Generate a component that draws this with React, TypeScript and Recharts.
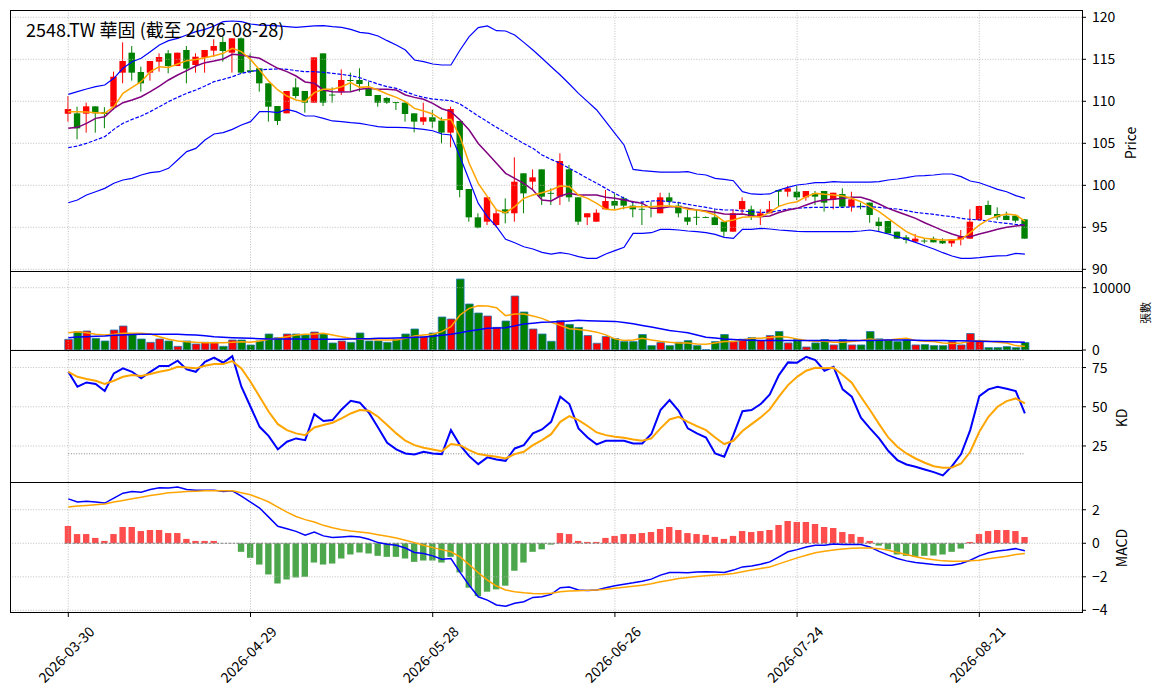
import React from "react";
import { Bar, Cell, ComposedChart, Line, ReferenceLine, XAxis, YAxis } from "recharts";

const FONT = "'Noto Sans CJK TC', 'Noto Sans', sans-serif";
const UP = "#ff0000";
const DOWN = "#008000";
const GRID = "#b0b0b0";

// x ticks (bar index -> date label)
const tickIdx = [0, 20, 40, 60, 80, 100];
const tickLabels = ["2026-03-30", "2026-04-29", "2026-05-28", "2026-06-26", "2026-07-24", "2026-08-21"];

const open = [
  108.52, 108.57, 108.53, 109.4, 108.7, 109.36, 113.41, 115.79, 113.49, 113.41,
  114.72, 115.71, 114.2, 116.11, 114.32, 115.2, 116.03, 117.06, 115.79, 117.5,
  113.7, 113.93, 112.14, 109.44, 108.57, 111.66, 111.23, 109.84, 115.71, 110.8,
  111.15, 112.54, 112.54, 111.55, 110.75, 110.4, 109.9, 109.84, 108.57, 107.58,
  108.1, 107.7, 106.27, 107.66, 99.56, 96.19, 95.67, 95.27, 97.14, 96.67,
  101.43, 100.43, 101.9, 99.1, 98.65, 101.9, 98.57, 96.19, 95.67, 97.14,
  98.13, 98.45, 97.58, 97.2, 97.5, 96.67, 98.57, 97.58, 96.19, 96.25,
  96.22, 96.19, 95.67, 94.48, 97.14, 97.14, 96.27, 96.67, 99.44, 99.24,
  99.24, 98.57, 99.04, 99.32, 98.33, 98.96, 97.46, 97.56, 97.94, 95.67,
  95.75, 94.48, 93.81, 93.29, 93.42, 93.65, 93.41, 93.09, 93.57, 93.65,
  95.87, 97.66, 96.59, 96.39, 96.39, 95.95,
];
const high = [
  110.63, 109.36, 109.84, 109.4, 109.3, 113.53, 117.02, 116.58, 114.12, 114.8,
  115.71, 116.1, 115.79, 116.58, 115.71, 116.11, 117.38, 117.7, 117.5, 117.6,
  115.7, 113.93, 112.14, 109.44, 111.23, 112.74, 111.23, 115.23, 115.71, 111.66,
  113.81, 113.41, 113.93, 112.34, 110.75, 110.5, 109.9, 109.84, 108.57, 109.84,
  108.96, 108.1, 109.36, 107.66, 99.56, 96.67, 98.57, 97.06, 98.45, 103.33,
  101.43, 101.9, 101.9, 99.64, 103.81, 102.42, 98.57, 96.67, 97.14, 99.44,
  99.04, 98.65, 98.05, 98.05, 98.05, 99.12, 99.12, 98.05, 97.14, 97.14,
  96.3, 97.14, 95.67, 97.14, 98.57, 97.58, 97.14, 98.13, 99.44, 99.92,
  99.92, 99.32, 99.32, 99.32, 99.12, 99.64, 99.24, 97.94, 97.94, 96.19,
  95.75, 94.48, 94.08, 94.2, 93.69, 93.89, 93.69, 93.57, 94.68, 97.14,
  97.54, 98.17, 97.38, 96.87, 96.39, 95.95,
];
const low = [
  107.58, 105.47, 106.27, 106.27, 106.8, 108.96, 112.14, 112.46, 111.15, 112.46,
  113.53, 113.33, 114.2, 112.14, 113.41, 113.41, 115.31, 114.72, 113.41, 113.3,
  113.3, 111.15, 107.58, 107.18, 108.57, 110.35, 108.65, 109.84, 109.44, 109.84,
  110.75, 111.15, 111.15, 110.63, 109.36, 109.7, 108.96, 107.58, 106.31, 107.18,
  106.78, 104.99, 104.52, 98.57, 95.67, 94.88, 95.27, 94.99, 95.47, 95.67,
  96.67, 99.44, 97.66, 97.66, 97.66, 98.05, 95.27, 95.27, 95.67, 97.14,
  97.14, 97.14, 96.19, 95.27, 96.19, 96.67, 97.58, 96.19, 95.27, 95.27,
  96.1, 95.27, 93.89, 94.48, 96.67, 95.87, 95.27, 96.67, 97.46, 98.65,
  98.25, 98.17, 97.66, 96.87, 97.14, 97.46, 96.87, 97.14, 95.55, 94.48,
  94.28, 93.65, 93.09, 93.29, 93.09, 93.21, 93.01, 92.69, 92.85, 93.65,
  95.87, 96.47, 95.87, 95.87, 95.55, 93.65,
];
const close = [
  109.08, 106.78, 109.4, 108.57, 108.5, 112.93, 114.8, 113.41, 112.14, 114.8,
  115.27, 114.2, 115.79, 113.89, 115.31, 116.11, 116.58, 115.99, 117.5, 113.41,
  113.5, 112.14, 109.36, 107.66, 111.23, 110.63, 109.84, 115.23, 109.84, 110.75,
  112.54, 112.42, 112.06, 110.63, 109.84, 109.84, 109.84, 108.49, 107.58, 108.1,
  107.58, 106.27, 109.08, 99.44, 96.19, 94.96, 98.57, 96.67, 96.67, 100.43,
  99.04, 100.95, 98.65, 99.04, 102.89, 98.57, 95.67, 96.67, 96.74, 98.13,
  97.58, 97.58, 97.14, 97.14, 97.45, 98.57, 98.05, 96.67, 95.67, 96.19,
  96.19, 95.27, 94.48, 96.67, 98.13, 96.27, 96.67, 97.14, 99.24, 99.64,
  98.57, 99.32, 98.65, 97.94, 99.12, 97.46, 98.33, 97.54, 96.47, 95.15,
  94.28, 93.65, 93.49, 93.65, 93.4, 93.21, 93.09, 93.57, 93.89, 95.67,
  97.54, 96.47, 96.19, 95.87, 95.79, 93.65,
];

// moving averages and Bollinger bands on the price panel
const ma5 = [
  108.77, 108.77, 108.73, 108.65, 108.57, 109.36, 110.95, 111.66, 112.34, 113.53,
  114.12, 114.04, 114.44, 114.84, 114.99, 115.19, 115.43, 115.71, 116.31, 115.91,
  114.99, 113.73, 112.4, 111.35, 110.63, 110.16, 109.96, 111.03, 111.43, 111.43,
  111.74, 112.22, 111.66, 111.74, 111.35, 110.87, 110.47, 109.96, 109.16, 108.85,
  108.49, 107.78, 107.85, 105.79, 102.62, 100.24, 98.65, 97.06, 96.74, 97.46,
  98.45, 98.85, 99.12, 99.44, 99.92, 99.84, 98.85, 98.45, 97.85, 97.14,
  97.06, 97.34, 97.46, 97.46, 97.46, 97.54, 97.54, 97.46, 97.14, 97.06,
  96.86, 96.47, 95.67, 95.87, 96.19, 96.27, 96.27, 96.78, 97.5, 97.85,
  98.05, 98.65, 99.04, 98.93, 98.85, 98.73, 98.45, 98.05, 97.46, 96.86,
  96.07, 95.27, 94.48, 93.97, 93.69, 93.57, 93.49, 93.49, 93.57, 94.36,
  95.27, 95.95, 96.35, 96.59, 96.47, 95.75,
];
const ma10 = [
  106.78, 106.9, 107.38, 107.97, 108.17, 109.16, 109.84, 110.16, 110.55, 111.15,
  111.82, 112.54, 113.13, 113.65, 114.2, 114.6, 114.8, 115.04, 115.59, 115.51,
  115.31, 115.12, 114.52, 113.93, 113.53, 113.01, 112.3, 112.14, 111.35, 111.15,
  111.11, 111.15, 111.43, 111.55, 111.43, 111.43, 111.35, 110.75, 110.47, 110.24,
  109.76, 109.12, 108.77, 107.78, 106.58, 104.98, 103.81, 102.62, 101.43, 100.83,
  100.24, 99.44, 98.25, 98.13, 98.73, 99.04, 98.85, 98.85, 98.85, 98.57,
  98.45, 98.25, 98.05, 97.85, 97.26, 97.26, 97.46, 97.46, 97.26, 97.06,
  96.94, 96.78, 96.59, 96.55, 96.59, 96.39, 96.27, 96.35, 96.76, 97.06,
  97.26, 97.66, 98.05, 98.25, 98.33, 98.45, 98.57, 98.57, 98.25, 97.78,
  97.26, 96.86, 96.47, 96.07, 95.55, 95.08, 94.6, 94.2, 93.89, 93.89,
  94.2, 94.48, 94.76, 95.0, 95.16, 95.27,
];
const bbMid = [
  104.48, 104.68, 105.0, 105.39, 105.79, 106.66, 107.38, 107.85, 108.25, 108.77,
  109.36, 109.96, 110.47, 110.95, 111.35, 111.82, 112.34, 112.62, 112.93, 113.33,
  113.53, 113.73, 113.81, 113.85, 113.81, 113.65, 113.53, 113.53, 113.45, 113.33,
  113.21, 113.05, 112.81, 112.42, 112.06, 111.74, 111.55, 111.15, 110.75, 110.47,
  110.27, 110.16, 110.08, 109.68, 108.97, 108.25, 107.58, 106.9, 106.27, 105.59,
  104.98, 104.4, 103.61, 103.09, 102.62, 102.02, 101.43, 100.83, 100.24, 99.64,
  99.04, 98.45, 97.93, 98.01, 98.13, 98.17, 98.05, 97.93, 97.74, 97.54,
  97.38, 97.18, 97.06, 97.06, 96.94, 96.86, 96.78, 96.78, 96.98, 97.18,
  97.26, 97.34, 97.38, 97.38, 97.38, 97.38, 97.42, 97.46, 97.46, 97.38,
  97.26, 97.18, 96.98, 96.78, 96.66, 96.55, 96.39, 96.27, 96.07, 95.95,
  95.87, 95.75, 95.59, 95.47, 95.35, 95.27,
];
const bbUpper = [
  110.83, 111.15, 111.47, 111.74, 111.94, 112.74, 113.93, 114.72, 115.12, 115.91,
  116.7, 117.22, 117.5, 117.89, 118.29, 118.57, 118.97, 119.48, 119.56, 119.48,
  119.2, 119.08, 119.04, 118.97, 118.89, 118.81, 118.89, 118.97, 119.0, 118.89,
  118.81, 118.57, 118.21, 118.09, 117.77, 117.22, 116.7, 116.11, 114.92, 114.72,
  114.44, 114.32, 114.32, 116.11, 117.7, 118.77, 118.97, 118.41, 118.37, 117.89,
  117.02, 116.11, 115.12, 114.12, 113.13, 112.06, 110.95, 109.96, 108.97, 107.58,
  106.19, 104.8, 101.9, 101.74, 101.66, 101.58, 101.58, 101.58, 101.62, 101.35,
  101.23, 100.83, 100.71, 100.55, 99.24, 98.97, 98.93, 98.97, 99.44, 99.76,
  100.04, 100.16, 100.31, 100.31, 100.43, 100.39, 100.39, 100.39, 100.39, 100.43,
  100.63, 100.75, 100.91, 101.11, 101.15, 101.23, 101.35, 101.35, 101.03, 100.51,
  100.31, 99.92, 99.52, 99.24, 98.77, 98.45,
];
const bbLower = [
  97.93, 98.25, 98.85, 99.24, 99.64, 100.24, 100.63, 100.83, 101.23, 101.5,
  101.62, 102.02, 103.01, 104.01, 104.4, 105.39, 106.11, 106.27, 106.66, 107.18,
  107.58, 108.77, 108.77, 108.65, 109.04, 108.77, 108.25, 108.25, 107.97, 107.66,
  107.58, 107.46, 107.38, 107.18, 106.98, 106.9, 106.9, 106.86, 106.78, 106.66,
  106.5, 106.11, 105.99, 103.41, 100.63, 97.85, 96.27, 95.08, 93.57, 93.17,
  92.69, 92.42, 92.02, 91.82, 91.98, 91.82, 91.51, 91.31, 91.31, 91.82,
  92.22, 92.62, 94.28, 94.28, 94.36, 94.76, 94.76, 94.68, 94.56, 94.48,
  94.36, 94.16, 93.81, 93.69, 94.76, 94.76, 94.88, 94.8, 94.68, 94.6,
  94.52, 94.48, 94.48, 94.48, 94.48, 94.48, 94.48, 94.56, 94.68, 94.48,
  94.2, 93.89, 93.57, 93.21, 92.81, 92.42, 91.98, 91.59, 91.31, 91.31,
  91.39, 91.51, 91.59, 91.63, 91.9, 91.82,
];

// volume (張)
const volume = [
  1711, 2941, 3048, 1872, 1444, 3209, 3851, 2514, 1765, 1230,
  1765, 1444, 588, 1444, 963, 1230, 1230, 588, 1604, 1604,
  802, 1444, 2567, 1979, 2567, 2567, 2407, 2888, 2567, 1123,
  1444, 1230, 2727, 1444, 1444, 1230, 1711, 2567, 3369, 2139,
  2727, 5295, 4974, 11391, 7380, 5936, 5455, 3637, 4653, 8664,
  6097, 3369, 2567, 1400, 4702, 4108, 3621, 2324, 1081, 2162,
  1838, 1351, 1351, 2486, 703, 1189, 703, 1243, 1513, 703,
  60, 1351, 2486, 1351, 1730, 2000, 1513, 2324, 2973, 1135,
  1676, 486, 1135, 1676, 811, 1676, 811, 811, 2973, 1784,
  1676, 1351, 1622, 811, 865, 703, 703, 1351, 811, 2648,
  1351, 378, 378, 540, 378, 1189,
];
const volMa5 = [
  2781, 2941, 2781, 2514, 2407, 2514, 2674, 2674, 2674, 2567,
  2139, 1711, 1444, 1337, 1230, 1177, 1177, 1177, 1230, 1337,
  1230, 1444, 1711, 1872, 2139, 2407, 2514, 2567, 2674, 2407,
  2139, 1872, 1711, 1711, 1604, 1604, 1604, 1872, 2246, 2407,
  2514, 2941, 3744, 5615, 6685, 7113, 7060, 6792, 5508, 5776,
  5776, 5455, 5081, 4460, 3946, 3405, 3297, 3135, 2865, 2432,
  1784, 1513, 1622, 1892, 1622, 1405, 1243, 1135, 1135, 973,
  919, 1135, 1351, 1351, 1622, 1892, 1892, 2000, 2162, 2054,
  1784, 1513, 1405, 1405, 1243, 1243, 1351, 1513, 1784, 1622,
  1622, 1784, 1892, 1513, 1405, 1351, 1135, 1027, 1135, 1405,
  1513, 1405, 1243, 1135, 703, 595,
];
const volMa20 = [
  1979, 2086, 2140, 2200, 2250, 2353, 2420, 2480, 2514, 2514,
  2514, 2514, 2514, 2460, 2407, 2300, 2139, 2060, 1979, 1930,
  1872, 1820, 1765, 1765, 1765, 1765, 1740, 1720, 1711, 1711,
  1740, 1765, 1790, 1820, 1872, 1900, 1930, 1979, 2040, 2100,
  2193, 2350, 2514, 2780, 3048, 3260, 3476, 3530, 3583, 3870,
  4171, 4300, 4439, 4486, 4594, 4670, 4756, 4700, 4648, 4620,
  4594, 4400, 4216, 3950, 3675, 3400, 3135, 2950, 2757, 2400,
  2054, 1920, 1784, 1700, 1622, 1570, 1513, 1513, 1513, 1513,
  1513, 1513, 1513, 1513, 1513, 1513, 1513, 1513, 1540, 1570,
  1600, 1610, 1600, 1570, 1540, 1520, 1510, 1500, 1480, 1450,
  1405, 1380, 1351, 1320, 1300, 1243,
];

// KD
const kLine = [
  72.3, 62.8, 65.5, 64.5, 60.0, 71.3, 74.5, 72.3, 68.1, 72.3,
  76.0, 76.0, 79.4, 73.8, 72.3, 78.7, 81.3, 78.1, 82.3, 62.8,
  50.0, 37.2, 31.3, 22.8, 27.7, 29.8, 28.7, 45.3, 40.9, 41.5,
  48.3, 53.8, 52.6, 46.2, 36.8, 27.0, 22.8, 20.2, 19.6, 21.3,
  20.2, 19.8, 35.1, 25.5, 18.5, 13.4, 17.7, 16.4, 15.5, 23.4,
  25.5, 33.0, 35.5, 40.4, 56.4, 51.7, 36.2, 30.4, 26.0, 28.3,
  28.3, 28.3, 26.6, 26.6, 32.6, 47.9, 54.3, 47.4, 36.2, 33.0,
  30.4, 20.2, 18.1, 31.9, 47.2, 47.9, 51.7, 57.9, 70.2, 78.3,
  78.1, 81.9, 79.8, 73.0, 75.5, 61.1, 56.4, 43.0, 36.2, 29.8,
  21.9, 16.0, 13.2, 11.7, 10.0, 8.3, 6.2, 12.1, 19.8, 35.1,
  56.8, 61.1, 62.8, 61.5, 60.0, 45.7,
];
const dLine = [
  72.3, 69.1, 67.7, 66.6, 64.5, 66.6, 69.1, 70.2, 69.6, 70.9,
  72.3, 73.4, 75.5, 75.1, 74.5, 76.2, 77.2, 77.2, 79.1, 74.5,
  66.0, 56.4, 46.8, 38.9, 35.1, 33.0, 31.9, 36.8, 38.3, 39.8,
  42.6, 45.7, 47.9, 47.4, 43.6, 38.3, 33.0, 28.3, 25.5, 23.8,
  22.8, 21.7, 26.2, 25.5, 22.3, 19.8, 18.9, 18.1, 17.0, 19.8,
  21.3, 25.5, 28.7, 32.5, 40.4, 44.0, 41.5, 37.7, 33.6, 31.9,
  30.9, 30.2, 29.1, 28.3, 29.8, 36.2, 41.9, 43.6, 40.4, 37.7,
  35.1, 30.4, 26.2, 28.3, 34.5, 38.9, 43.2, 48.3, 56.4, 63.8,
  69.1, 73.0, 74.9, 74.5, 74.9, 70.2, 65.3, 56.4, 47.9, 38.9,
  30.4, 24.5, 20.2, 17.0, 14.3, 12.1, 11.1, 11.3, 13.8, 21.3,
  34.0, 43.6, 50.0, 53.6, 55.3, 52.1,
];

// MACD
const dif = [
  2.65, 2.46, 2.51, 2.46, 2.4, 2.69, 2.99, 3.09, 3.05, 3.21,
  3.31, 3.29, 3.35, 3.21, 3.17, 3.17, 3.17, 3.09, 3.13, 2.81,
  2.46, 2.1, 1.56, 1.01, 0.87, 0.71, 0.48, 0.67, 0.44, 0.34,
  0.38, 0.42, 0.38, 0.24, 0.04, -0.06, -0.12, -0.28, -0.55, -0.61,
  -0.75, -0.95, -0.91, -1.74, -2.5, -3.19, -3.39, -3.68, -3.76, -3.58,
  -3.49, -3.23, -3.19, -3.05, -2.65, -2.61, -2.79, -2.81, -2.79, -2.65,
  -2.53, -2.44, -2.36, -2.26, -2.14, -1.9, -1.74, -1.74, -1.76, -1.72,
  -1.7, -1.72, -1.74, -1.6, -1.41, -1.35, -1.25, -1.11, -0.81, -0.51,
  -0.38, -0.22, -0.12, -0.12, -0.04, -0.08, -0.08, -0.08, -0.22, -0.48,
  -0.71, -0.91, -1.05, -1.15, -1.21, -1.27, -1.31, -1.31, -1.21, -1.01,
  -0.75, -0.57, -0.46, -0.4, -0.32, -0.44,
];
const dea = [
  2.16, 2.22, 2.26, 2.3, 2.34, 2.46, 2.55, 2.65, 2.75, 2.85,
  2.93, 3.01, 3.05, 3.09, 3.11, 3.13, 3.13, 3.13, 3.13, 3.01,
  2.89, 2.69, 2.46, 2.16, 1.86, 1.6, 1.41, 1.27, 1.07, 0.93,
  0.81, 0.73, 0.67, 0.61, 0.51, 0.42, 0.32, 0.18, 0.04, -0.12,
  -0.26, -0.38, -0.51, -0.81, -1.27, -1.76, -2.2, -2.55, -2.79, -2.89,
  -2.95, -2.99, -3.01, -2.98, -2.89, -2.85, -2.83, -2.81, -2.79, -2.75,
  -2.69, -2.63, -2.57, -2.5, -2.42, -2.3, -2.2, -2.1, -2.04, -1.98,
  -1.94, -1.9, -1.86, -1.8, -1.7, -1.6, -1.5, -1.41, -1.23, -1.05,
  -0.87, -0.71, -0.57, -0.48, -0.4, -0.34, -0.3, -0.28, -0.28, -0.32,
  -0.42, -0.55, -0.67, -0.81, -0.91, -0.99, -1.05, -1.07, -1.07, -1.05,
  -1.01, -0.93, -0.85, -0.77, -0.67, -0.61,
];
const hist = [
  1.03, 0.55, 0.55, 0.32, 0.14, 0.55, 0.97, 0.97, 0.73, 0.79,
  0.79, 0.61, 0.61, 0.26, 0.14, 0.14, 0.14, 0.0, 0.0, -0.51,
  -0.87, -1.27, -1.86, -2.4, -2.16, -2.04, -2.0, -1.15, -1.27, -1.21,
  -0.91, -0.67, -0.55, -0.61, -0.75, -0.81, -0.81, -0.91, -1.11, -1.03,
  -1.03, -1.15, -0.81, -1.74, -2.65, -3.15, -2.89, -2.75, -2.53, -1.64,
  -1.15, -0.51, -0.36, -0.08, 0.61, 0.55, 0.14, 0.08, 0.08, 0.32,
  0.44, 0.55, 0.55, 0.61, 0.67, 0.85, 0.97, 0.79, 0.61, 0.55,
  0.5, 0.38, 0.26, 0.44, 0.73, 0.67, 0.73, 0.79, 1.09, 1.33,
  1.27, 1.27, 1.15, 0.97, 0.91, 0.67, 0.55, 0.38, 0.14, -0.14,
  -0.36, -0.67, -0.75, -0.81, -0.75, -0.73, -0.67, -0.51, -0.32, 0.08,
  0.55, 0.73, 0.79, 0.79, 0.73, 0.38,
];

const rows = open.map((o, i) => ({
  i,
  o,
  h: high[i],
  l: low[i],
  c: close[i],
  range: [low[i], high[i]],
  ma5: ma5[i],
  ma10: ma10[i],
  mid: bbMid[i],
  upper: bbUpper[i],
  lower: bbLower[i],
  vol: volume[i],
  vma5: volMa5[i],
  vma20: volMa20[i],
  k: kLine[i],
  d: dLine[i],
  dif: dif[i],
  dea: dea[i],
  hist: hist[i],
}));

const W = 1163;
const PLOT_L = 10;
const PLOT_R = 1082;
const AXIS_W = 70;
const PAD = 12; // extra room so edge tick labels are not clipped
const X_DOMAIN: [number, number] = [-6.4, 111.27];
const X_AXIS_H = 86;

const margin = (bottom: number) => ({ top: PAD, bottom, left: PLOT_L, right: W - PLOT_R - AXIS_W });

const PANELS = {
  price: { top: 10, h: 261 },
  vol: { top: 271, h: 79 },
  kd: { top: 350, h: 132 },
  macd: { top: 482, h: 130 },
};

const tickStyle = { fontSize: 14, fill: "#000", fontFamily: FONT };
const minus = (v: number) => (v < 0 ? `\u2212${-v}` : `${v}`);

function gridLines(yTicks: number[]) {
  const v = tickIdx.map((x) => (
    <ReferenceLine key={`gx${x}`} x={x} stroke={GRID} strokeWidth={0.8} strokeDasharray="1 1.6" />
  ));
  const h = yTicks.map((y) => (
    <ReferenceLine key={`gy${y}`} y={y} stroke={GRID} strokeWidth={0.8} strokeDasharray="1 1.6" />
  ));
  return [...v, ...h];
}

function Candle(props: any) {
  const { x, y, width, height, payload } = props;
  const top = Math.min(y, y + height);
  const bot = Math.max(y, y + height);
  const { o, h, l, c } = payload;
  const ppu = (bot - top) / (h - l || 1);
  const yo = top + (h - o) * ppu;
  const yc = top + (h - c) * ppu;
  const color = c >= o ? UP : DOWN;
  const cx = x + width / 2;
  return (
    <g>
      <line x1={cx} x2={cx} y1={top} y2={bot} stroke={color} strokeWidth={1} />
      <rect x={x} y={Math.min(yo, yc)} width={width} height={Math.max(Math.abs(yo - yc), 0.9)} fill={color} />
    </g>
  );
}

function DateTick(props: any) {
  const { x, payload } = props;
  const label = tickLabels[tickIdx.indexOf(payload.value)];
  const cy = PAD + PANELS.macd.h + 42;
  return (
    <text
      transform={`translate(${x - 2.5},${cy}) rotate(-45)`}
      textAnchor="middle"
      dominantBaseline="central"
      fontSize={14}
      fontFamily={FONT}
      fill="#000"
    >
      {label}
    </text>
  );
}

const hiddenX = <XAxis dataKey="i" type="number" domain={X_DOMAIN} allowDataOverflow hide />;

function Panel({ p, bottom = PAD, children }: { p: { top: number; h: number }; bottom?: number; children: React.ReactNode }) {
  return (
    <div style={{ position: "absolute", left: 0, top: p.top - PAD }}>
      <ComposedChart width={W} height={p.h + PAD + bottom} data={rows} margin={margin(bottom)}>
        {children}
      </ComposedChart>
    </div>
  );
}

export default function App() {
  const priceTicks = [90, 95, 100, 105, 110, 115, 120];
  const volTicks = [0, 10000];
  const kdTicks = [25, 50, 75];
  const macdTicks = [-4, -2, 0, 2];

  const yAxisCommon = {
    orientation: "right" as const,
    allowDataOverflow: true,
    axisLine: false,
    tickLine: { stroke: "#000" },
    tickSize: 4,
    tickMargin: 6,
    width: AXIS_W,
    tick: tickStyle,
    interval: 0 as const,
  };

  return (
    <div style={{ position: "absolute", left: 0, top: 0, width: W, height: 698, background: "#fff", fontFamily: FONT }}>
      {/* price */}
      <div style={{ position: "absolute", left: 0, top: PANELS.price.top - PAD }}>
        <ComposedChart width={W} height={PANELS.price.h + 2 * PAD} data={rows} margin={margin(PAD)}>
          {hiddenX}
          <YAxis {...yAxisCommon} domain={[89.8, 120.87]} ticks={priceTicks} />
          {gridLines(priceTicks)}
          <Bar dataKey="range" shape={Candle} barSize={6.4} isAnimationActive={false} />
          <Line dataKey="upper" stroke="#0000ff" strokeWidth={1.2} dot={false} isAnimationActive={false} />
          <Line dataKey="lower" stroke="#0000ff" strokeWidth={1.2} dot={false} isAnimationActive={false} />
          <Line dataKey="mid" stroke="#0000ff" strokeWidth={1.2} strokeDasharray="3.7 1.6" dot={false} isAnimationActive={false} />
          <Line dataKey="ma10" stroke="#800080" strokeWidth={1.5} dot={false} isAnimationActive={false} />
          <Line dataKey="ma5" stroke="#ffa500" strokeWidth={1.5} dot={false} isAnimationActive={false} />
        </ComposedChart>
      </div>

      {/* volume */}
      <div style={{ position: "absolute", left: 0, top: PANELS.vol.top - PAD }}>
        <ComposedChart width={W} height={PANELS.vol.h + 2 * PAD} data={rows} margin={margin(PAD)}>
          {hiddenX}
          <YAxis {...yAxisCommon} domain={[0, 12680]} ticks={volTicks} />
          {gridLines(volTicks)}
          <Bar dataKey="vol" barSize={7.6} stroke="#1f77b4" strokeWidth={0.8} isAnimationActive={false}>
            {rows.map((r) => (
              <Cell key={r.i} fill={r.c > r.o ? UP : DOWN} />
            ))}
          </Bar>
          <Line dataKey="vma5" stroke="#ffa500" strokeWidth={1.5} dot={false} isAnimationActive={false} />
          <Line dataKey="vma20" stroke="#0000ff" strokeWidth={1.5} dot={false} isAnimationActive={false} />
        </ComposedChart>
      </div>

      {/* KD */}
      <div style={{ position: "absolute", left: 0, top: PANELS.kd.top - PAD }}>
        <ComposedChart width={W} height={PANELS.kd.h + 2 * PAD} data={rows} margin={margin(PAD)}>
          {hiddenX}
          <YAxis {...yAxisCommon} domain={[2.0, 86.2]} ticks={kdTicks} />
          {gridLines(kdTicks)}
          <ReferenceLine segment={[{ x: 0, y: 80 }, { x: 105, y: 80 }]} stroke="#808080" strokeWidth={1} strokeDasharray="1 1.6" />
          <ReferenceLine segment={[{ x: 0, y: 20 }, { x: 105, y: 20 }]} stroke="#808080" strokeWidth={1} strokeDasharray="1 1.6" />
          <Line dataKey="k" stroke="#0000ff" strokeWidth={2} dot={false} isAnimationActive={false} />
          <Line dataKey="d" stroke="#ffa500" strokeWidth={2} dot={false} isAnimationActive={false} />
        </ComposedChart>
      </div>

      {/* MACD */}
      <div style={{ position: "absolute", left: 0, top: PANELS.macd.top - PAD }}>
        <ComposedChart width={W} height={PANELS.macd.h + PAD + X_AXIS_H} data={rows} margin={margin(0)}>
          <XAxis
            dataKey="i"
            type="number"
            domain={X_DOMAIN}
            allowDataOverflow
            ticks={tickIdx}
            interval={0}
            height={X_AXIS_H}
            axisLine={false}
            tickLine={{ stroke: "#000" }}
            tickSize={5}
            tick={<DateTick />}
          />
          <YAxis {...yAxisCommon} domain={[-4.1, 3.655]} ticks={macdTicks} tickFormatter={minus} />
          {gridLines(macdTicks)}
          <ReferenceLine segment={[{ x: -0.4, y: 0 }, { x: 105.4, y: 0 }]} stroke="#808080" strokeWidth={1} strokeDasharray="2.5 1.5" />
          <Bar dataKey="hist" barSize={6.4} isAnimationActive={false}>
            {rows.map((r) => (
              <Cell key={r.i} fill={r.hist >= 0 ? "rgba(255,0,0,0.7)" : "rgba(0,128,0,0.7)"} />
            ))}
          </Bar>
          <Line dataKey="dif" stroke="#0000ff" strokeWidth={1.5} dot={false} isAnimationActive={false} />
          <Line dataKey="dea" stroke="#ffa500" strokeWidth={1.5} dot={false} isAnimationActive={false} />
        </ComposedChart>
      </div>

      {/* frames, title and axis titles */}
      <svg width={W} height={698} style={{ position: "absolute", left: 0, top: 0, pointerEvents: "none" }}>
        {Object.values(PANELS).map((p, k) => (
          <rect key={k} x={PLOT_L + 0.5} y={p.top + 0.5} width={PLOT_R - PLOT_L} height={p.h} fill="none" stroke="#000" strokeWidth={1} />
        ))}
        <text x={26} y={37} fontSize={18} fontFamily={FONT} fill="#000">
          2548.TW 華固 (截至 2026-08-28)
        </text>
        <text transform="translate(1130,143) rotate(-90)" textAnchor="middle" dominantBaseline="central" fontSize={14} fontFamily={FONT}>
          Price
        </text>
        <text transform="translate(1145,313) rotate(-90)" textAnchor="middle" dominantBaseline="central" fontSize={11} fontFamily={FONT}>
          張數
        </text>
        <text transform="translate(1121,418) rotate(-90)" textAnchor="middle" dominantBaseline="central" fontSize={14} fontFamily={FONT}>
          KD
        </text>
        <text transform="translate(1121,548) rotate(-90)" textAnchor="middle" dominantBaseline="central" fontSize={14} fontFamily={FONT}>
          MACD
        </text>
      </svg>
    </div>
  );
}
